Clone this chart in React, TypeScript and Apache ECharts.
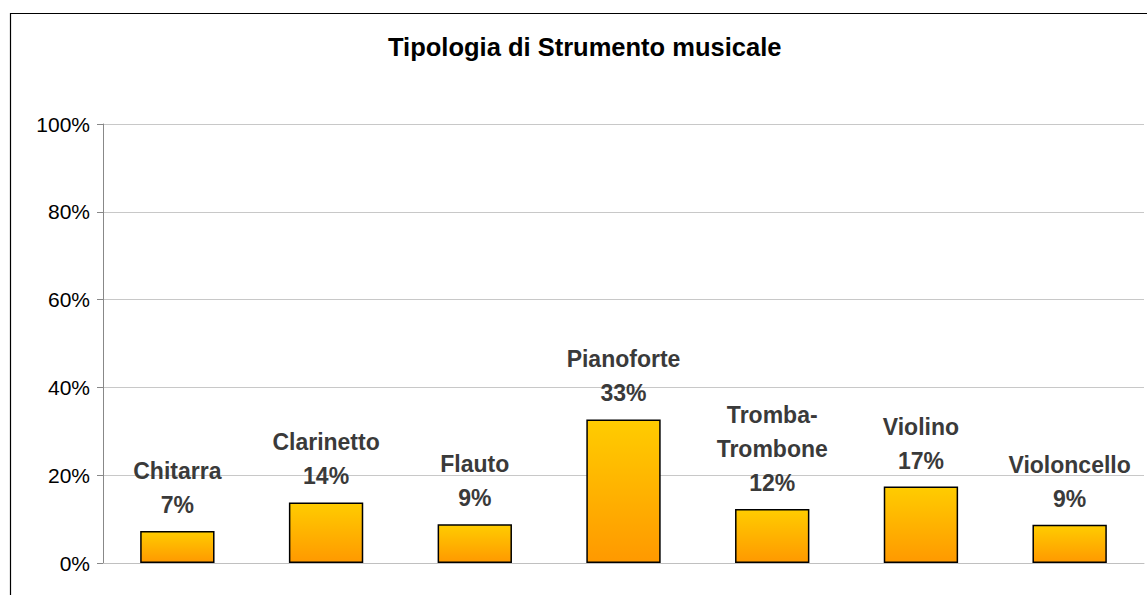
import React, { useEffect, useRef } from "react";
import * as echarts from "echarts";

const categories = ["Chitarra", "Clarinetto", "Flauto", "Pianoforte", "Tromba-Trombone", "Violino", "Violoncello"];
const values = [7.3, 13.8, 8.8, 32.7, 12.3, 17.4, 8.7];
const yTicks = [0, 20, 40, 60, 80, 100];
const titleText = "Tipologia di Strumento musicale";

export default function App() {
  const ref = useRef<HTMLDivElement>(null);
  useEffect(() => {
    if (!ref.current) return;
    const chart = echarts.init(ref.current, null, { renderer: "svg" });
    chart.setOption({
      animation: false,
      backgroundColor: "#fff",
      textStyle: { fontFamily: "Liberation Sans, Arial, sans-serif" },
      title: {
        text: titleText,
        left: 383,
        top: 29,
        textStyle: { fontSize: 25.5, fontWeight: "bold", color: "#000", fontFamily: "Liberation Sans, Arial, sans-serif" },
      },
      graphic: [
        {
          type: "rect",
          shape: { x: 10.5, y: 13.5, width: 1300, height: 700 },
          style: { fill: "none", stroke: "#000", lineWidth: 1.2 },
          silent: true,
          z: 100,
        },
      ],
      grid: { left: 103, right: 3, top: 124, bottom: 32, containLabel: false },
      xAxis: {
        type: "category",
        data: categories,
        axisLine: { show: true, lineStyle: { color: "#c0c0c0", width: 1 } },
        axisTick: { show: false },
        axisLabel: { show: false },
      },
      yAxis: {
        type: "value",
        min: yTicks[0],
        max: yTicks[yTicks.length - 1],
        interval: 20,
        axisLine: { show: true, lineStyle: { color: "#888", width: 1 } },
        axisTick: { show: true, length: 6, lineStyle: { color: "#888" } },
        axisLabel: {
          formatter: "{value}%",
          fontSize: 21,
          color: "#000",
          margin: 13,
          fontFamily: "Liberation Sans, Arial, sans-serif",
        },
        splitLine: { lineStyle: { color: "#c8c8c8", width: 1 } },
      },
      series: [
        {
          type: "bar",
          data: values,
          barWidth: "50%",
          itemStyle: {
            color: new echarts.graphic.LinearGradient(0, 0, 0, 1, [
              { offset: 0, color: "#FFCC00" },
              { offset: 1, color: "#FF9900" },
            ]),
            borderColor: "#000",
            borderWidth: 1.5,
          },
          label: {
            show: true,
            position: "top",
            distance: 9,
            fontSize: 23,
            fontWeight: "bold",
            lineHeight: 34,
            color: "#3a3a3a",
            fontFamily: "Liberation Sans, Arial, sans-serif",
            formatter: (p: any) => `${String(p.name).replace("-", "-\n")}\n${Math.round(p.value)}%`,
          },
        },
      ],
    });
    return () => chart.dispose();
  }, []);
  return <div ref={ref} style={{ position: "absolute", left: 0, top: 0, width: 1147, height: 595 }} />;
}
